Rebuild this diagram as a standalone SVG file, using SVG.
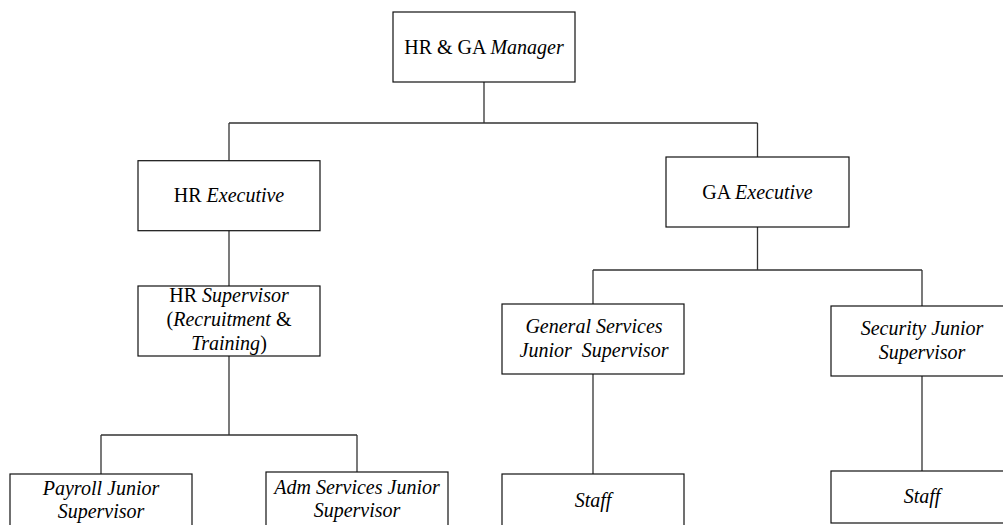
<svg xmlns="http://www.w3.org/2000/svg" width="1003" height="525" viewBox="0 0 1003 525">
<style>
.box{fill:#fff;stroke:#111;stroke-width:1.2}
.con{fill:none;stroke:#333;stroke-width:1.3}
text{font-family:"Liberation Serif","Times New Roman",serif;font-size:20px;fill:#000;text-anchor:middle}
.i{font-style:italic}
</style>
<rect width="1003" height="525" fill="#fff"/>
<g id="connectors">
<path class="con" d="M484 82V123M229 123H757.5M229 123V160.7M757.5 123V157"/>
<path class="con" d="M229 230.7V286"/>
<path class="con" d="M757.5 227V270M593 270H922M593 270V304M922 270V306"/>
<path class="con" d="M229 356V435M101 435H357M101 435V474M357 435V472"/>
<path class="con" d="M593 374V474M922 376V471"/>
</g>
<g id="manager"><rect class="box" x="393" y="12" width="182" height="70"/><text x="484" y="54">HR &amp; GA <tspan class="i">Manager</tspan></text></g>
<g id="hr-exec"><rect class="box" x="138" y="160.7" width="182" height="70"/><text x="229" y="202.3">HR <tspan class="i">Executive</tspan></text></g>
<g id="ga-exec"><rect class="box" x="666" y="157" width="183" height="70"/><text x="757.5" y="199.3">GA <tspan class="i">Executive</tspan></text></g>
<g id="hr-sup"><rect class="box" x="138" y="286" width="182" height="70"/>
<text x="229" y="301.7">HR <tspan class="i">Supervisor</tspan></text>
<text x="229" y="325.5">(<tspan class="i">Recruitment</tspan> &amp;</text>
<text x="229" y="350" class="i">Training<tspan font-style="normal">)</tspan></text></g>
<g id="payroll"><rect class="box" x="10" y="474" width="182" height="70"/>
<text class="i" x="101" y="495">Payroll Junior</text><text class="i" x="101" y="518">Supervisor</text></g>
<g id="adm"><rect class="box" x="266" y="472" width="182" height="70"/>
<text class="i" x="357" y="493.5">Adm Services Junior</text><text class="i" x="357" y="517">Supervisor</text></g>
<g id="gs"><rect class="box" x="502" y="304" width="182" height="70"/>
<text class="i" x="594" y="332.7">General Services</text><text class="i" x="594" y="356.7" xml:space="preserve">Junior  Supervisor</text></g>
<g id="security"><rect class="box" x="831" y="306" width="182" height="70"/>
<text class="i" x="922" y="335">Security Junior</text><text class="i" x="922" y="359.3">Supervisor</text></g>
<g id="staff-1"><rect class="box" x="502" y="474" width="182" height="60"/><text class="i" x="593" y="507">Staff</text></g>
<g id="staff-2"><rect class="box" x="831" y="471" width="182" height="52"/><text class="i" x="922" y="503">Staff</text></g>
</svg>
